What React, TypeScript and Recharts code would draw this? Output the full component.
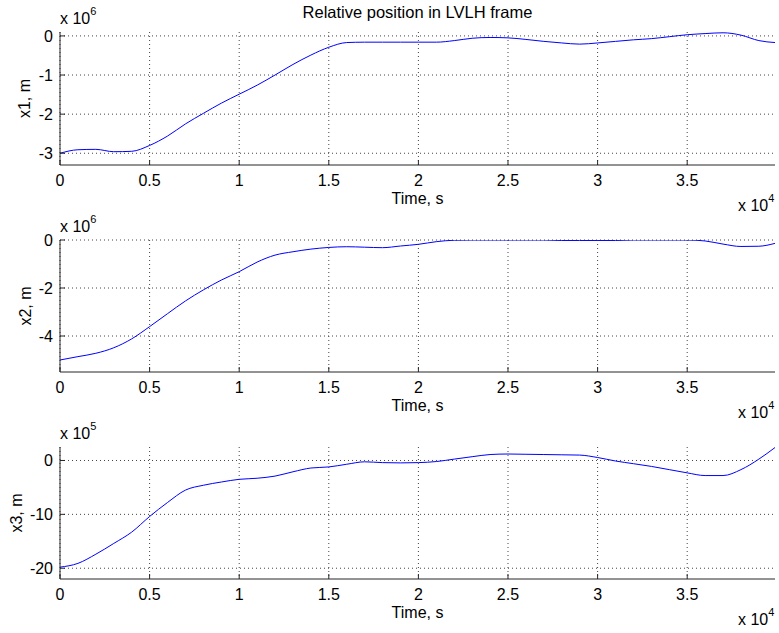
import React from "react";
import { LineChart, Line, XAxis, YAxis, CartesianGrid } from "recharts";

// time samples, seconds
const times = [
  0, 1000, 2000, 3000, 4000, 5000, 6000, 7000, 8000, 9000,
  10000, 11000, 12000, 13000, 14000, 15000, 16000, 17000, 18000, 19000,
  20000, 21000, 22000, 23000, 24000, 25000, 26000, 27000, 28000, 29000,
  30000, 31000, 32000, 33000, 34000, 35000, 36000, 37000, 38000, 39000, 39900,
];

// x1 in units of 1e6 m
const x1Vals = [
  -3.0, -2.91, -2.9, -2.96, -2.95, -2.8, -2.56, -2.25, -1.98, -1.72,
  -1.49, -1.26, -1.0, -0.73, -0.49, -0.29, -0.17, -0.16, -0.16, -0.16,
  -0.16, -0.16, -0.12, -0.06, -0.04, -0.05, -0.09, -0.14, -0.18, -0.21,
  -0.18, -0.14, -0.1, -0.07, -0.02, 0.03, 0.06, 0.08, 0.02, -0.12, -0.17,
];

// x2 in units of 1e6 m
const x2Vals = [
  -5.0, -4.86, -4.72, -4.49, -4.12, -3.61, -3.07, -2.54, -2.08, -1.67,
  -1.32, -0.92, -0.63, -0.49, -0.38, -0.31, -0.28, -0.3, -0.32, -0.25,
  -0.18, -0.07, -0.01, 0, 0, 0, 0, 0, -0.02, -0.02,
  -0.02, -0.02, 0, 0, 0, 0, -0.04, -0.17, -0.27, -0.26, -0.14,
];

// x3 in units of 1e5 m
const x3Vals = [
  -19.8, -19.1, -17.4, -15.4, -13.3, -10.4, -7.8, -5.5, -4.6, -4.0,
  -3.5, -3.3, -2.9, -2.1, -1.4, -1.2, -0.7, -0.25, -0.4, -0.45,
  -0.4, -0.2, 0.25, 0.7, 1.1, 1.2, 1.15, 1.1, 1.05, 1.0,
  0.55, -0.1, -0.6, -1.1, -1.7, -2.3, -2.8, -2.8, -1.7, 0.25, 2.4,
];

const timeTicks = [0, 5000, 10000, 15000, 20000, 25000, 30000, 35000];
const x1Ticks = [-3, -2, -1, 0];
const x2Ticks = [-4, -2, 0];
const x3Ticks = [-20, -10, 0];

const FONT = "'Liberation Sans', Arial, Helvetica, sans-serif";
const W = 779;
const PLOT_LEFT = 60;
const PLOT_RIGHT = 775;
const AXIS = "#262626";

const empty = () => <g />;

function Panel({ top, marginTop, plotH, values, domain, ticks }: any) {
  const data = times.map((t, i) => ({ t, v: values[i] }));
  return (
    <div style={{ position: "absolute", left: 0, top, width: W }}>
      <LineChart
        width={W}
        height={marginTop + plotH + 45}
        data={data}
        margin={{ top: marginTop, right: W - PLOT_RIGHT, bottom: 0, left: 0 }}
      >
        <CartesianGrid stroke="#444" strokeDasharray="1 3" horizontalValues={ticks} verticalValues={timeTicks} />
        <XAxis
          dataKey="t"
          type="number"
          domain={[0, 39900]}
          ticks={timeTicks}
          allowDataOverflow
          height={45}
          tickSize={-5}
          tickMargin={15}
          stroke={AXIS}
          tick={{ fill: "#000", fontSize: 16, fontFamily: FONT }}
          tickFormatter={(v: number) => String(v / 10000)}
        />
        <XAxis
          xAxisId="top"
          orientation="top"
          type="number"
          domain={[0, 39900]}
          ticks={timeTicks}
          allowDataOverflow
          height={0}
          tickSize={-5}
          stroke={AXIS}
          tick={empty}
        />
        <YAxis
          type="number"
          domain={domain}
          ticks={ticks}
          allowDataOverflow
          width={PLOT_LEFT}
          tickSize={-5}
          tickMargin={12}
          stroke={AXIS}
          tick={{ fill: "#000", fontSize: 16, fontFamily: FONT }}
        />
        <YAxis
          yAxisId="right"
          orientation="right"
          type="number"
          domain={domain}
          ticks={ticks}
          allowDataOverflow
          width={0}
          tickSize={-5}
          stroke={AXIS}
          tick={empty}
        />
        <Line
          type="monotone"
          dataKey="v"
          stroke="#0000ff"
          strokeWidth={1}
          dot={false}
          isAnimationActive={false}
        />
      </LineChart>
    </div>
  );
}

function Exponent({ x, y, exp }: { x: number; y: number; exp: string }) {
  return (
    <text x={x} y={y} fontSize={16} fontFamily={FONT} fill="#000" dominantBaseline="middle">
      x 10
      <tspan fontSize={11} dy={-8}>{exp}</tspan>
    </text>
  );
}

const panels = [
  { plotTop: 32, plotBottom: 165, ylabel: "x1, m", ylabelX: 26, yexp: "6" },
  { plotTop: 240, plotBottom: 372, ylabel: "x2, m", ylabelX: 27, yexp: "6" },
  { plotTop: 447, plotBottom: 579, ylabel: "x3, m", ylabelX: 18, yexp: "5" },
];

function Labels() {
  const cx = (PLOT_LEFT + PLOT_RIGHT) / 2;
  return (
    <svg
      width={W}
      height={633}
      style={{ position: "absolute", left: 0, top: 0, pointerEvents: "none" }}
    >
      <text x={cx} y={14} textAnchor="middle" dominantBaseline="middle" fontSize={16.5} fontFamily={FONT} fill="#000">
        Relative position in LVLH frame
      </text>
      {panels.map((p) => {
        const cy = (p.plotTop + p.plotBottom) / 2;
        return (
          <g key={p.ylabel}>
            <Exponent x={PLOT_LEFT} y={p.plotTop - 12} exp={p.yexp} />
            <text
              x={p.ylabelX}
              y={cy}
              textAnchor="middle"
              dominantBaseline="middle"
              fontSize={16}
              fontFamily={FONT}
              fill="#000"
              transform={`rotate(-90 ${p.ylabelX} ${cy})`}
            >
              {p.ylabel}
            </text>
            <text x={cx} y={p.plotBottom + 35} textAnchor="middle" dominantBaseline="middle" fontSize={16} fontFamily={FONT} fill="#000">
              Time, s
            </text>
            <Exponent x={738} y={p.plotBottom + 42} exp="4" />
          </g>
        );
      })}
    </svg>
  );
}

export default function App() {
  return (
    <div style={{ position: "absolute", left: 0, top: 0, width: W, height: 633, background: "#fff" }}>
      <Panel top={0} marginTop={32} plotH={133} values={x1Vals} domain={[-3.3, 0.1]} ticks={x1Ticks} />
      <Panel top={200} marginTop={40} plotH={132} values={x2Vals} domain={[-5.5, 0]} ticks={x2Ticks} />
      <Panel top={410} marginTop={37} plotH={132} values={x3Vals} domain={[-22, 2.5]} ticks={x3Ticks} />
      <Labels />
    </div>
  );
}
